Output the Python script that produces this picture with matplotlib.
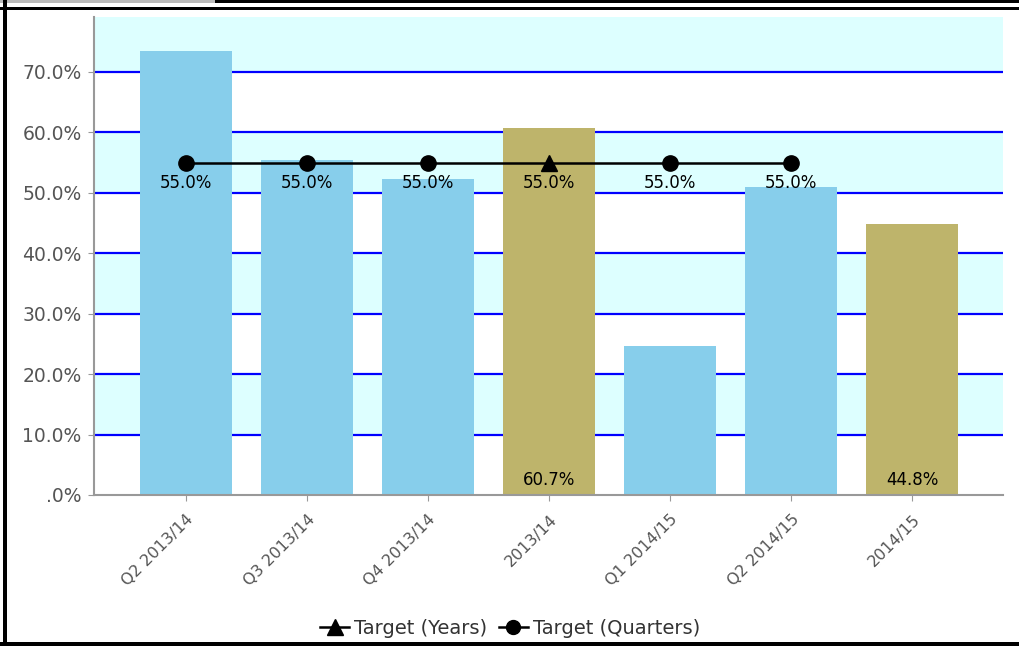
import numpy as np
import matplotlib
matplotlib.use('Agg')
import matplotlib.pyplot as plt
from matplotlib.lines import Line2D
from matplotlib.patches import Rectangle

categories = ['Q2 2013/14', 'Q3 2013/14', 'Q4 2013/14', '2013/14',
              'Q1 2014/15', 'Q2 2014/15', '2014/15']
values = [73.5, 55.5, 52.3, 60.7, 24.7, 51.0, 44.8]
is_year = [False, False, False, True, False, False, True]

quarter_idx = [0, 1, 2, 4, 5]
quarter_target = [55.0, 55.0, 55.0, 55.0, 55.0]
year_idx = [3]
year_target = [55.0]

yticks = [0, 10, 20, 30, 40, 50, 60, 70]
ytick_labels = ['.0%', '10.0%', '20.0%', '30.0%', '40.0%', '50.0%', '60.0%', '70.0%']

BLUE = '#87CEEB'
OLIVE = '#BEB46B'
BAND = '#DDFFFF'

fig = plt.figure(figsize=(10.2, 6.46), dpi=100)
ax = fig.add_axes([94/1020, 1 - 495/646, (1003-94)/1020, (495-17)/646])

ymax = 79.1
ax.set_ylim(0, ymax)
ax.set_xlim(-0.76, 6.75)

# alternating bands
for lo in [10, 30, 50, 70]:
    ax.axhspan(lo, min(lo + 10, ymax), color=BAND, lw=0, zorder=0)
for y in yticks[1:]:
    ax.axhline(y, color='#0000FF', lw=1.6, zorder=1)

x = np.arange(len(categories))
colors = [OLIVE if yr else BLUE for yr in is_year]
ax.bar(x, values, width=0.76, color=colors, zorder=2)

for xi, v, yr in zip(x, values, is_year):
    if yr:
        ax.text(xi, 1.0, f'{v:.1f}%', ha='center', va='bottom', fontsize=12, zorder=5)

ax.plot(quarter_idx, quarter_target, color='black', lw=1.8, marker='o',
        markersize=11, zorder=4)
ax.plot(year_idx, year_target, color='black', lw=1.8, marker='^',
        markersize=12, ls='none', zorder=4)

for xi, v in zip(quarter_idx + year_idx, quarter_target + year_target):
    ax.annotate(f'{v:.1f}%', (xi, v), xytext=(0, -8), textcoords='offset points',
                ha='center', va='top', fontsize=12, zorder=5)

ax.set_yticks(yticks)
ax.set_yticklabels(ytick_labels, fontsize=13.5, color='#555555')
ax.set_xticks(x)
ax.set_xticklabels(categories, rotation=45, ha='right', va='top',
                   rotation_mode='anchor', fontsize=11.5, color='#555555')
ax.tick_params(axis='both', color='#999999', length=4)
ax.tick_params(axis='x', pad=8)
ax.tick_params(axis='y', pad=5)

for side in ['top', 'right']:
    ax.spines[side].set_visible(False)
for side in ['left', 'bottom']:
    ax.spines[side].set_color('#999999')
    ax.spines[side].set_linewidth(1.5)

handles = [Line2D([], [], color='black', marker='^', markersize=11, lw=1.8),
           Line2D([], [], color='black', marker='o', markersize=10, lw=1.8)]
fig.legend(handles, ['Target (Years)', 'Target (Quarters)'], loc='center',
           bbox_to_anchor=(510/1020, 1 - 628/646), ncol=2, frameon=False,
           fontsize=14, handlelength=1.5, handletextpad=0.25, columnspacing=0.6,
           labelcolor='#333333')

# outer frame
def px_rect(x0, y0, w, h, c):
    fig.patches.append(Rectangle((x0/1020, 1 - (y0 + h)/646), w/1020, h/646,
                                 transform=fig.transFigure, color=c, lw=0))

px_rect(0, 0, 215, 3, '#BBBBBB')
px_rect(215, 0, 805, 3, 'black')
px_rect(0, 7, 1020, 3, 'black')
px_rect(3, 0, 4, 646, 'black')
px_rect(0, 642, 1020, 4, 'black')

fig.savefig('out.png', dpi=100)
